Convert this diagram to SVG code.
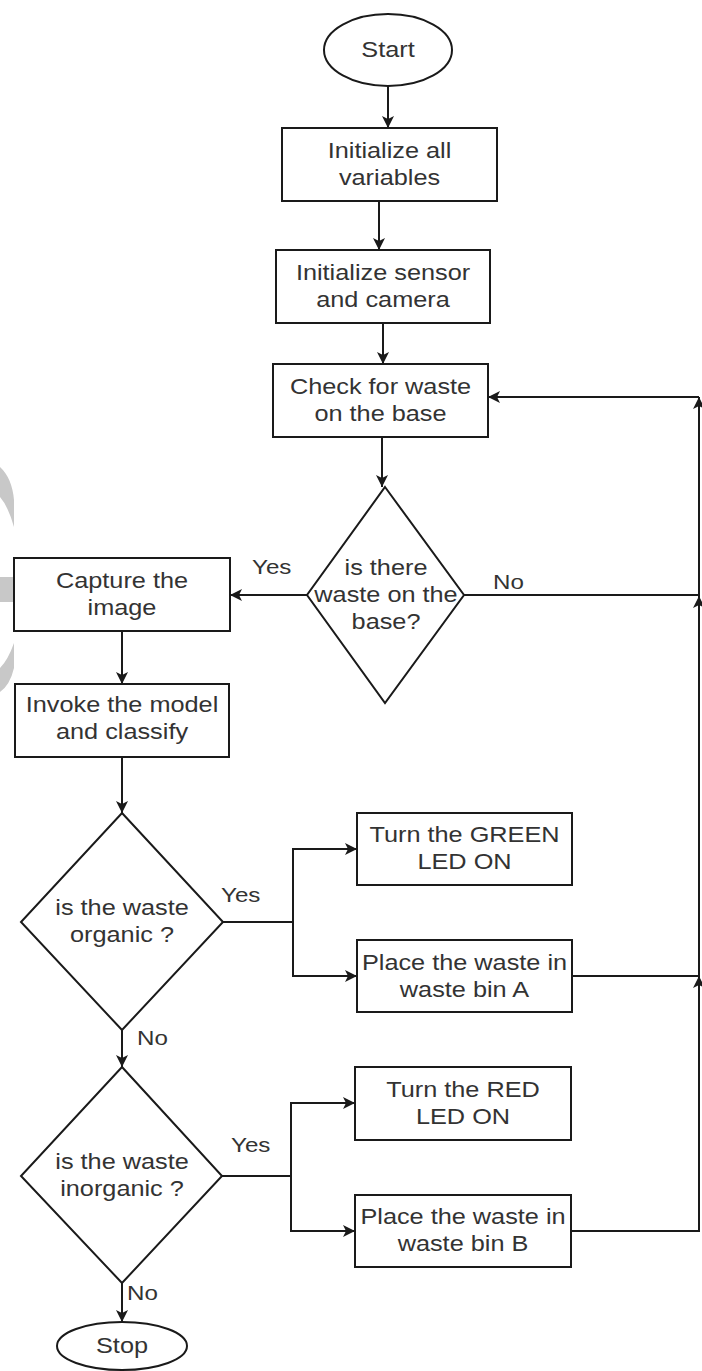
<svg xmlns="http://www.w3.org/2000/svg" width="702" height="1371" viewBox="0 0 702 1371">
<style>
.n{fill:#ffffff;stroke:#1a1a1a;stroke-width:2}
.c{fill:none;stroke:#1a1a1a;stroke-width:2}
.t{font-family:"Liberation Sans",Arial,sans-serif;font-size:22px;fill:#333333;text-anchor:middle}
.l{font-family:"Liberation Sans",Arial,sans-serif;font-size:21px;fill:#333333;text-anchor:start}
.wm{fill:#c8c8c8;stroke:none}
</style>
<defs>
<marker id="arr" viewBox="0 0 12 12" refX="12" refY="6" markerWidth="12" markerHeight="12" markerUnits="userSpaceOnUse" orient="auto">
<path d="M0,0 L12,6 L0,12 L3,6 Z" fill="#1a1a1a"/>
</marker>
</defs>
<rect width="702" height="1371" fill="#ffffff"/>
<g id="watermark">
<path class="wm" d="M0,467 Q12,478 14,500 L14,527 Q8,506 0,497 Z"/>
<rect class="wm" x="0" y="577" width="14" height="25"/>
<path class="wm" d="M14,643 L14,668 Q10,685 0,692 L0,668 Q8,660 14,643 Z"/>
</g>
<g id="connectors">
<path class="c" d="M388,86 V128" marker-end="url(#arr)"/>
<path class="c" d="M379,201 V250" marker-end="url(#arr)"/>
<path class="c" d="M383,323 V364" marker-end="url(#arr)"/>
<path class="c" d="M382,437 V487" marker-end="url(#arr)"/>
<path class="c" d="M307,595 H230" marker-end="url(#arr)"/>
<path class="c" d="M122,631 V684" marker-end="url(#arr)"/>
<path class="c" d="M122,757 V813" marker-end="url(#arr)"/>
<path class="c" d="M223,922 H293 V849 H357" marker-end="url(#arr)"/>
<path class="c" d="M293,922 V976 H357" marker-end="url(#arr)"/>
<path class="c" d="M122,1030 V1067" marker-end="url(#arr)"/>
<path class="c" d="M222,1176 H291 V1103 H355" marker-end="url(#arr)"/>
<path class="c" d="M291,1176 V1231 H355" marker-end="url(#arr)"/>
<path class="c" d="M122,1283 V1322" marker-end="url(#arr)"/>
<path class="c" d="M571,1231 H699 V976" marker-end="url(#arr)"/>
<path class="c" d="M572,976 H699"/>
<path class="c" d="M699,976 V596" marker-end="url(#arr)"/>
<path class="c" d="M464,595 H699"/>
<path class="c" d="M699,596 V397" marker-end="url(#arr)"/>
<path class="c" d="M699,397 H488" marker-end="url(#arr)"/>
<text class="l" transform="translate(252,0) scale(1.15,1)" x="0" y="574">Yes</text>
<text class="l" transform="translate(493,0) scale(1.15,1)" x="0" y="589">No</text>
<text class="l" transform="translate(221,0) scale(1.15,1)" x="0" y="902">Yes</text>
<text class="l" transform="translate(137,0) scale(1.15,1)" x="0" y="1045">No</text>
<text class="l" transform="translate(231,0) scale(1.15,1)" x="0" y="1152">Yes</text>
<text class="l" transform="translate(127,0) scale(1.15,1)" x="0" y="1300">No</text>
</g>
<g id="start">
<ellipse class="n" cx="388" cy="50" rx="64" ry="36"/>
<text class="t" transform="translate(388,0) scale(1.15,1)" x="0" y="57">Start</text>
</g>
<g id="init-vars">
<rect class="n" x="282" y="128" width="215" height="73"/>
<text class="t" transform="translate(389.5,0) scale(1.15,1)"><tspan x="0" y="158">Initialize all</tspan><tspan x="0" y="185">variables</tspan></text>
</g>
<g id="init-sensor">
<rect class="n" x="276" y="250" width="214" height="73"/>
<text class="t" transform="translate(383,0) scale(1.15,1)"><tspan x="0" y="280">Initialize sensor</tspan><tspan x="0" y="307">and camera</tspan></text>
</g>
<g id="check-waste">
<rect class="n" x="273" y="364" width="215" height="73"/>
<text class="t" transform="translate(380.5,0) scale(1.15,1)"><tspan x="0" y="394">Check for waste</tspan><tspan x="0" y="421">on the base</tspan></text>
</g>
<g id="is-waste">
<polygon class="n" points="385,487 464,595 385,703 307,595"/>
<text class="t" transform="translate(386,0) scale(1.15,1)"><tspan x="0" y="575">is there</tspan><tspan x="0" y="602">waste on the</tspan><tspan x="0" y="629">base?</tspan></text>
</g>
<g id="capture">
<rect class="n" x="14" y="558" width="216" height="73"/>
<text class="t" transform="translate(122,0) scale(1.15,1)"><tspan x="0" y="588">Capture the</tspan><tspan x="0" y="615">image</tspan></text>
</g>
<g id="invoke">
<rect class="n" x="15" y="684" width="214" height="73"/>
<text class="t" transform="translate(122,0) scale(1.15,1)"><tspan x="0" y="712">Invoke the model</tspan><tspan x="0" y="739">and classify</tspan></text>
</g>
<g id="is-organic">
<polygon class="n" points="122,813 223,922 122,1030 21,922"/>
<text class="t" transform="translate(122,0) scale(1.15,1)"><tspan x="0" y="915">is the waste</tspan><tspan x="0" y="942">organic ?</tspan></text>
</g>
<g id="green-led">
<rect class="n" x="357" y="813" width="215" height="72"/>
<text class="t" transform="translate(464.5,0) scale(1.15,1)"><tspan x="0" y="842">Turn the GREEN</tspan><tspan x="0" y="869">LED ON</tspan></text>
</g>
<g id="bin-a">
<rect class="n" x="357" y="940" width="215" height="72"/>
<text class="t" transform="translate(464.5,0) scale(1.15,1)"><tspan x="0" y="970">Place the waste in</tspan><tspan x="0" y="997">waste bin A</tspan></text>
</g>
<g id="is-inorganic">
<polygon class="n" points="122,1067 222,1176 122,1283 21,1176"/>
<text class="t" transform="translate(122,0) scale(1.15,1)"><tspan x="0" y="1169">is the waste</tspan><tspan x="0" y="1196">inorganic ?</tspan></text>
</g>
<g id="red-led">
<rect class="n" x="355" y="1067" width="216" height="73"/>
<text class="t" transform="translate(463,0) scale(1.15,1)"><tspan x="0" y="1097">Turn the RED</tspan><tspan x="0" y="1124">LED ON</tspan></text>
</g>
<g id="bin-b">
<rect class="n" x="355" y="1195" width="216" height="72"/>
<text class="t" transform="translate(463,0) scale(1.15,1)"><tspan x="0" y="1224">Place the waste in</tspan><tspan x="0" y="1251">waste bin B</tspan></text>
</g>
<g id="stop">
<ellipse class="n" cx="122" cy="1346" rx="65" ry="24"/>
<text class="t" transform="translate(122,0) scale(1.15,1)" x="0" y="1353">Stop</text>
</g>
</svg>
